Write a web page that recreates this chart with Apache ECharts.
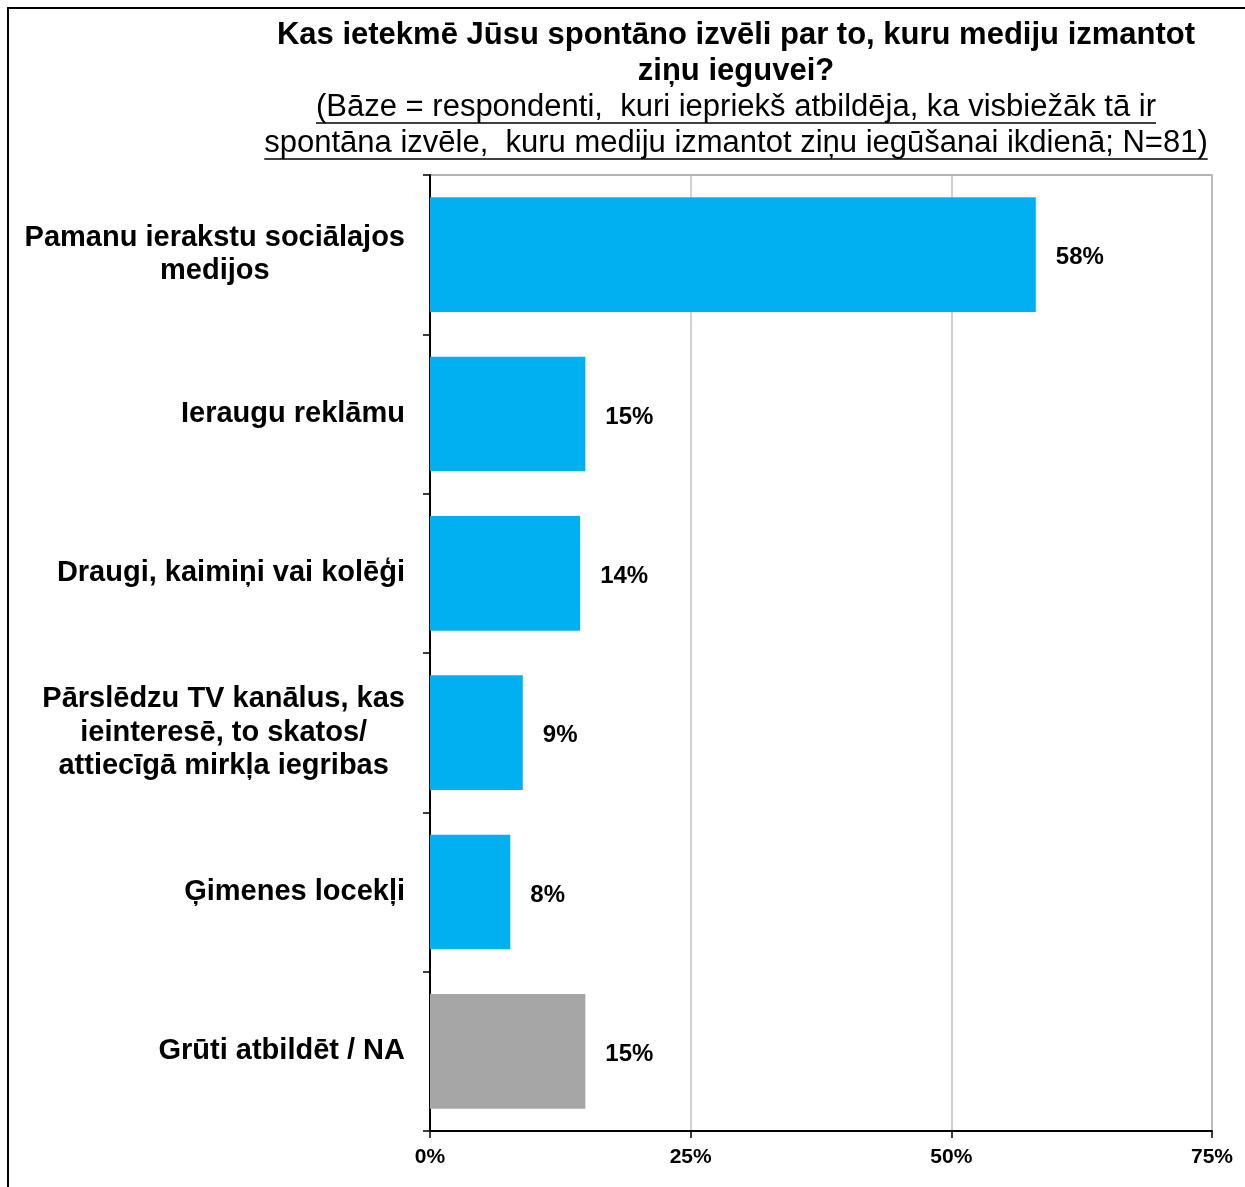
<!DOCTYPE html>
<html><head><meta charset="utf-8">
<script src="https://cdn.jsdelivr.net/npm/echarts@6/dist/echarts.min.js"></script>
<style>html,body{margin:0;padding:0;background:#fff}#c{width:1245px;height:1187px}</style>
</head><body><div id="c"></div>
<script>
const categories = [
  "Pamanu ierakstu sociālajos\nmedijos",
  "Ieraugu reklāmu",
  "Draugi, kaimiņi vai kolēģi",
  "Pārslēdzu TV kanālus, kas\nieinteresē, to skatos/\nattiecīgā mirkļa iegribas",
  "Ģimenes locekļi",
  "Grūti atbildēt / NA"
];
const values = [58.1, 14.9, 14.4, 8.9, 7.7, 14.9];
const barColors = ["#00B0F0", "#00B0F0", "#00B0F0", "#00B0F0", "#00B0F0", "#A6A6A6"];
const xTicks = [0, 25, 50, 75];
const titleLines = ["Kas ietekmē Jūsu spontāno izvēli par to, kuru mediju izmantot", "ziņu ieguvei?"];
const subtitleLines = ["(Bāze = respondenti,  kuri iepriekš atbildēja, ka visbiežāk tā ir", "spontāna izvēle,  kuru mediju izmantot ziņu iegūšanai ikdienā; N=81)"];

const FONT = '"Liberation Sans", Arial, sans-serif';
const cx = 736;
const subFontPx = 31;
const ctx = document.createElement('canvas').getContext('2d');
ctx.font = subFontPx + 'px ' + FONT;

const graphics = [
  {type:'rect', shape:{x:8, y:8, width:1260, height:1200}, style:{fill:'none', stroke:'#000', lineWidth:2}, silent:true}
];
titleLines.forEach((t, i) => {
  graphics.push({type:'text', x:cx, y:35 + i*36, style:{text:t, font:'bold 31px ' + FONT, fill:'#000', align:'center', verticalAlign:'middle'}});
});
subtitleLines.forEach((t, i) => {
  const y = 107 + i*36;
  const w = ctx.measureText(t).width;
  graphics.push({type:'text', x:cx, y:y, style:{text:t, font:subFontPx + 'px ' + FONT, fill:'#000', align:'center', verticalAlign:'middle'}});
  graphics.push({type:'line', shape:{x1:cx - w/2, y1:y + 16, x2:cx + w/2, y2:y + 16}, style:{stroke:'#000', lineWidth:1.5}});
});

const chart = echarts.init(document.getElementById('c'), null, {renderer:'canvas'});
chart.setOption({
  animation:false,
  backgroundColor:'#fff',
  textStyle:{fontFamily:FONT},
  grid:{left:430, right:33, top:175, bottom:56, show:true, borderColor:'#9a9a9a', borderWidth:1.5, containLabel:false},
  xAxis:{
    type:'value', min:0, max:75, interval:25,
    axisLine:{show:true, lineStyle:{color:'#000', width:2}},
    axisTick:{show:true, length:7, lineStyle:{color:'#000', width:1.5}},
    axisLabel:{formatter:'{value}%', fontWeight:'bold', fontSize:21, color:'#000', margin:16, fontFamily:FONT},
    splitLine:{show:true, lineStyle:{color:'#c0c0c0', width:1.5}}
  },
  yAxis:{
    type:'category', inverse:true, data:categories,
    axisLine:{show:true, lineStyle:{color:'#000', width:2}},
    axisTick:{show:true, length:7, lineStyle:{color:'#000', width:1.5}},
    axisLabel:{
      margin:25, color:'#000', align:'right',
      formatter:(v) => v.split('\n').map(l => '{a|' + l + '}').join('\n'),
      rich:{a:{fontSize:29, fontWeight:'bold', lineHeight:33.5, align:'center', fontFamily:FONT, color:'#000'}}
    },
    splitLine:{show:false}
  },
  series:[{
    type:'bar',
    data:values.map((v, i) => ({value:v, itemStyle:{color:barColors[i]}})),
    barCategoryGap:'28%',
    label:{show:true, position:'right', distance:20, offset:[0, 3], formatter:(p) => Math.round(p.value) + '%', fontWeight:'bold', fontSize:24, color:'#000', fontFamily:FONT}
  }],
  graphic:graphics
});
</script></body></html>
